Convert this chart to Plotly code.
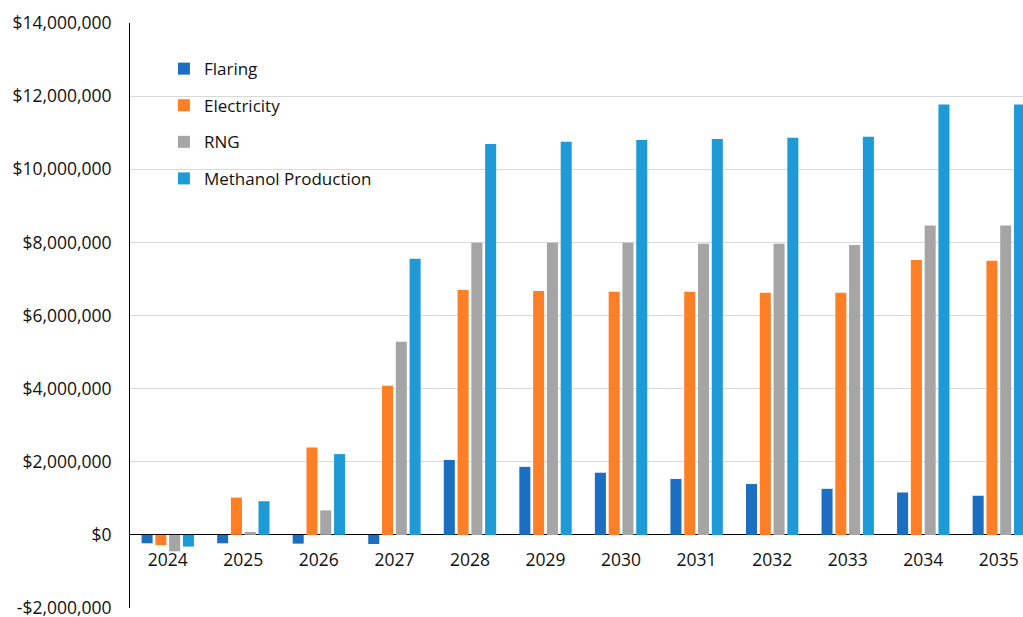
import plotly.graph_objects as go

years = ["2024", "2025", "2026", "2027", "2028", "2029", "2030", "2031", "2032", "2033", "2034", "2035"]
flaring = [-0.23e6, -0.23e6, -0.24e6, -0.25e6, 2.05e6, 1.86e6, 1.70e6, 1.53e6, 1.39e6, 1.26e6, 1.16e6, 1.07e6]
electricity = [-0.28e6, 1.02e6, 2.39e6, 4.08e6, 6.70e6, 6.67e6, 6.65e6, 6.65e6, 6.62e6, 6.62e6, 7.52e6, 7.50e6]
rng = [-0.45e6, 0.08e6, 0.67e6, 5.28e6, 7.99e6, 7.99e6, 7.99e6, 7.96e6, 7.96e6, 7.93e6, 8.46e6, 8.46e6]
methanol = [-0.32e6, 0.92e6, 2.21e6, 7.55e6, 10.69e6, 10.75e6, 10.80e6, 10.83e6, 10.86e6, 10.89e6, 11.77e6, 11.77e6]

series_names = ["Flaring", "Electricity", "RNG", "Methanol Production"]
series_values = [flaring, electricity, rng, methanol]
colors = ["#1B6EC2", "#FF7F27", "#A5A5A5", "#1E9AD6"]

tick_vals = [-2e6, 0, 2e6, 4e6, 6e6, 8e6, 10e6, 12e6, 14e6]
tick_text = ["-$2,000,000", "$0", "$2,000,000", "$4,000,000", "$6,000,000",
             "$8,000,000", "$10,000,000", "$12,000,000", "$14,000,000"]

FONT = "Open Sans, Lato, sans-serif"

fig = go.Figure()
for name, vals, col in zip(series_names, series_values, colors):
    fig.add_trace(go.Bar(x=years, y=vals, name=name, marker=dict(color=col, line=dict(width=0)),
                         legendgroup=name))

fig.update_layout(
    width=1023, height=617,
    margin=dict(l=130, r=0, t=23, b=9, autoexpand=False),
    paper_bgcolor="white", plot_bgcolor="white",
    font=dict(family=FONT, size=17.5, color="#111111"),
    barmode="group", bargap=0.27, bargroupgap=0.2,
    showlegend=True,
    legend=dict(x=0.038, y=0.952, xanchor="left", yanchor="top",
                bgcolor="rgba(0,0,0,0)", font=dict(size=17, family=FONT),
                tracegroupgap=11.5, itemwidth=30),
    xaxis=dict(type="category", range=[-0.5, 11.32], anchor="free", position=0.125,
               showline=False, showgrid=False, ticks="", ticklabelstandoff=13,
               automargin=False),
    yaxis=dict(range=[-2e6, 14e6], tickvals=tick_vals, ticktext=tick_text,
               showgrid=True, gridcolor="#D9D9D9", gridwidth=1,
               zeroline=True, zerolinecolor="#000000", zerolinewidth=1,
               showline=True, linecolor="#000000", linewidth=1,
               ticks="", ticklabelstandoff=14, ticklabeloverflow="allow",
               automargin=False),
)

fig.write_html("out.html")
